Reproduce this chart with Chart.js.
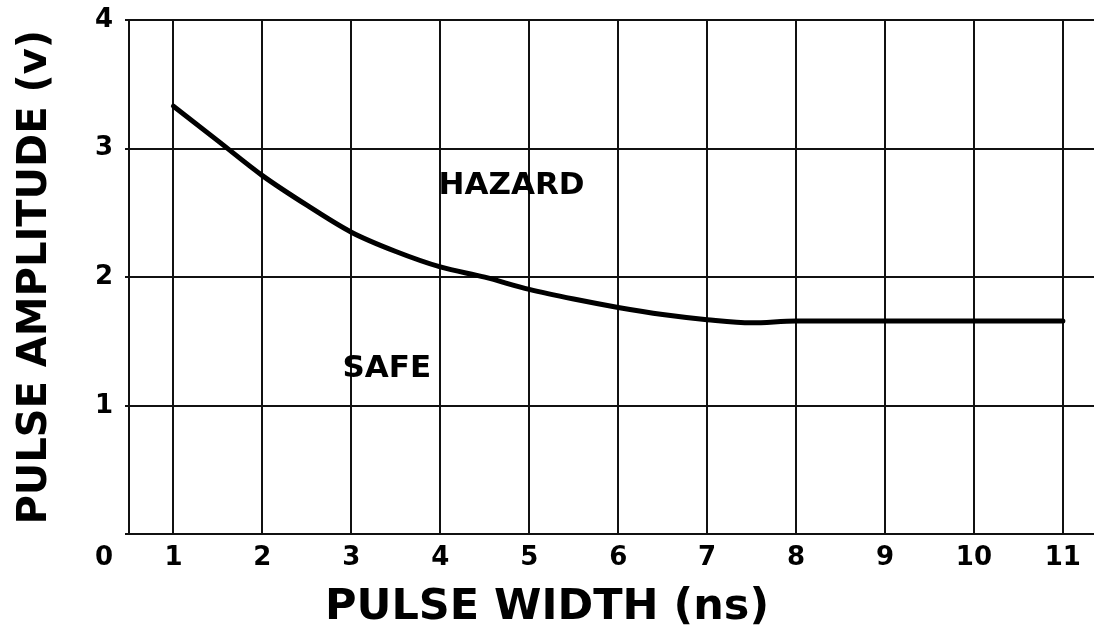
<!DOCTYPE html>
<html>
<head>
<meta charset="utf-8">
<script src="https://cdn.jsdelivr.net/npm/chart.js@4/dist/chart.umd.min.js"></script>
<style>
  html, body { margin: 0; padding: 0; background: #fff; }
  #wrap { width: 1094px; height: 635px; }
</style>
</head>
<body>
<div id="wrap"><canvas id="chart"></canvas></div>
<script>
// pulse width (ns) vs threshold amplitude (v)
const pulseWidth = [1, 1.5, 2, 2.5, 3, 3.5, 4, 4.5, 5, 5.5, 6, 6.5, 7, 7.5, 8, 9, 10, 11];
const amplitude = [3.33, 3.06, 2.79, 2.56, 2.35, 2.2, 2.08, 2.0, 1.905, 1.83, 1.765, 1.71, 1.67, 1.645, 1.66, 1.66, 1.66, 1.66];

const xTicks = [1, 2, 3, 4, 5, 6, 7, 8, 9, 10, 11];
const yTicks = [0, 1, 2, 3, 4];
const originLabel = "0";

const regionNames = ["HAZARD", "SAFE"];
const regionX = [3.98, 2.9];
const regionY = [2.71, 1.29];

const FONT = "'DejaVu Sans', Verdana, sans-serif";
const INK = "#111";

// region names and the shared "0" at the corner
const extraText = {
  id: "extraText",
  afterDraw(chart) {
    const { ctx, scales: { x, y } } = chart;
    ctx.save();
    ctx.fillStyle = "#000";
    ctx.font = "bold 31px " + FONT;
    ctx.textAlign = "left";
    ctx.textBaseline = "middle";
    regionNames.forEach((name, i) => {
      ctx.fillText(name, x.getPixelForValue(regionX[i]), y.getPixelForValue(regionY[i]));
    });

    const item = x.getLabelItems()[0];
    ctx.font = "bold 26px " + FONT;
    ctx.textAlign = "right";
    ctx.textBaseline = item.options.textBaseline;
    ctx.fillText(originLabel, y.right - 4 - 12, item.options.translation[1] + item.textOffset);
    ctx.restore();
  }
};

new Chart(document.getElementById("chart"), {
  type: "line",
  data: {
    datasets: [{
      data: pulseWidth.map((v, i) => ({ x: v, y: amplitude[i] })),
      borderColor: "#000",
      borderWidth: 5,
      borderCapStyle: "round",
      pointRadius: 0,
      cubicInterpolationMode: "monotone",
      fill: false
    }]
  },
  options: {
    responsive: true,
    maintainAspectRatio: false,
    animation: false,
    layout: { padding: { top: 20, right: 0, left: 0, bottom: 0 } },
    plugins: {
      legend: { display: false },
      tooltip: { enabled: false },
      title: {
        display: true,
        position: "bottom",
        text: "PULSE WIDTH (ns)",
        color: "#000",
        font: { family: FONT, size: 43, weight: "bold" },
        padding: { top: 0, bottom: 1 }
      }
    },
    scales: {
      x: {
        type: "linear",
        min: 0.5,
        max: 11.35,
        afterBuildTicks: (scale) => { scale.ticks = xTicks.map(v => ({ value: v })); },
        afterFit: (scale) => { scale.height = 48; },
        grid: { color: INK, lineWidth: 2, drawTicks: false },
        border: { color: INK, width: 2 },
        ticks: {
          color: "#000",
          padding: 8,
          font: { family: FONT, size: 26, weight: "bold" },
          maxRotation: 0
        }
      },
      y: {
        min: 0,
        max: 4,
        afterBuildTicks: (scale) => { scale.ticks = yTicks.map(v => ({ value: v })); },
        afterFit: (scale) => {
          scale.width = 129;
          // keep the top label from pushing the plot down
          scale.paddingTop = 0;
          scale.paddingBottom = 0;
        },
        grid: { color: INK, lineWidth: 2, tickLength: 4 },
        border: { color: INK, width: 2 },
        title: {
          display: true,
          text: "PULSE AMPLITUDE (v)",
          color: "#000",
          font: { family: FONT, size: 40, weight: "bold" },
          padding: { top: 12, bottom: 0 }
        },
        ticks: {
          color: "#000",
          padding: 12,
          font: { family: FONT, size: 26, weight: "bold" },
          callback: (v) => (v === 0 ? "" : String(v))
        }
      }
    }
  },
  plugins: [extraText]
});
</script>
</body>
</html>
